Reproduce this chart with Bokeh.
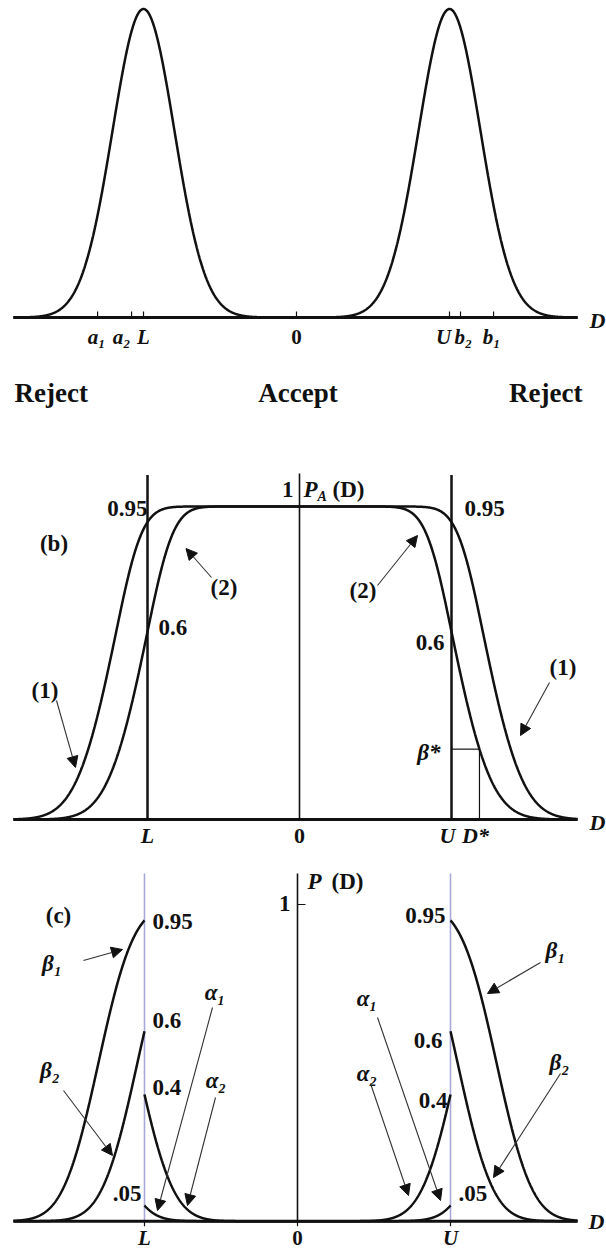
import math
import numpy as np
from statistics import NormalDist
from bokeh.plotting import figure
from bokeh.layouts import column
from bokeh.models import Range1d, Arrow, NormalHead
from bokeh.core.properties import value
from bokeh.embed import file_html
from bokeh.resources import INLINE

FONT = "Liberation Serif"
INK = "#111111"
GUIDE = "#a8a8da"
ARROW_INK = "#333333"
FS = 23      # label font size
FT = 22      # tick label font size

# ---------------- values ----------------
L_LIMIT = -1.0
U_LIMIT = 1.0

# (a) distributions of the estimate centred on the two limits
dist_centers = [L_LIMIT, U_LIMIT]
dist_sigma = 0.202
a_tick_pos = [-1.300, -1.078, -1.000, 0.000, 1.000, 1.072, 1.288]
a_tick_text = ["a₁", "a₂", "L", "0", "U", "b₂", "b₁"]
region_text = ["Reject", "Accept", "Reject"]

# (b) operating characteristic curves (1) and (2)
oc_labels = ["(1)", "(2)"]
pa_at_limits = [0.95, 0.6]
b_scale_outer = 0.2105
b_scale_inner = 0.1316
d_star = 1.184
b_tick_pos = [L_LIMIT, 0.0, U_LIMIT, d_star]
b_tick_text = ["L", "0", "U", "D*"]

# (c) error probabilities beta (outside) and alpha (inside)
c_scale = 0.183
beta_text = ["β₁", "β₂"]
alpha_text = ["α₁", "α₂"]
c_level_text = ["0.95", "0.6", "0.4", ".05"]
c_tick_pos = [L_LIMIT, 0.0, U_LIMIT]
c_tick_text = ["L", "0", "U"]

# ---------------- curve shapes ----------------
ND = NormalDist()
_erf = np.vectorize(math.erf)


def Phi(z):
    return 0.5 * (1.0 + _erf(np.asarray(z, float) / math.sqrt(2.0)))


def make_shape(a, b):
    wl = 2 * a / (a + b)
    wh = 2 * b / (a + b)
    pm = a / (a + b)

    def F(v):
        v = np.asarray(v, float)
        return np.where(v < 0, wl * Phi(v / a), 1 - wh * (1 - Phi(v / b)))

    def Finv(p):
        if p < pm:
            return a * ND.inv_cdf(p / wl)
        return b * ND.inv_cdf(1 - (1 - p) / wh)

    return F, Finv


def accept_prob(D, p_limit, shape):
    F, Finv = shape
    s = Finv(p_limit)
    return F(D - (L_LIMIT - s)) * F((U_LIMIT + s) - D)


# ---------------- panels ----------------
W = 606


class Panel:
    def __init__(self, top, h, cx, ux, ay, uy):
        self.cx, self.ux, self.ay, self.uy = cx, ux, ay, uy
        self.fig = figure(
            width=W, height=h,
            x_range=Range1d((0 - cx) / ux, (W - cx) / ux),
            y_range=Range1d((ay - (top + h)) / uy, (ay - top) / uy),
            output_backend="svg", toolbar_location=None, tools="",
            x_axis_type=None, y_axis_type=None, min_border=0,
            outline_line_color=None, background_fill_color="white",
            border_fill_color="white",
        )
        self.lo = self.X(13)
        self.hi = self.X(577)

    def X(self, px):
        return (px - self.cx) / self.ux

    def Y(self, py):
        return (self.ay - py) / self.uy

    def dx(self, n):
        return n / self.ux

    def dy(self, n):
        return n / self.uy


def txt(P, xp, yp, s, size=FS, style="bold", align="center"):
    P.fig.text(x=[P.X(xp)], y=[P.Y(yp)], text=[s],
               text_font=value(FONT), text_font_size=value(f"{size}px"),
               text_font_style=style, text_align=align, text_baseline="middle",
               text_color=INK)


def arrow(P, x0, y0, x1, y1):
    P.fig.add_layout(Arrow(
        end=NormalHead(size=11, fill_color=INK, line_color=INK, line_width=1),
        x_start=P.X(x0), y_start=P.Y(y0), x_end=P.X(x1), y_end=P.Y(y1),
        line_color=ARROW_INK, line_width=1.1))


def tick_labels(P, xs, texts, shifts, mid_py, size=FT):
    for x, t, o in zip(xs, texts, shifts):
        P.fig.text(x=[x + P.dx(o)], y=[P.Y(mid_py)], text=[t], text_font=value(FONT),
                   text_font_size=value(f"{size}px"),
                   text_font_style="bold" if t == "0" else "bold italic",
                   text_align="center", text_baseline="middle", text_color=INK)


# ===== panel (a) =====
A = Panel(0, 420, 296, 153, 317, 308.5)
pa = A.fig
D = np.linspace(A.lo, A.hi, 1500)
for c in dist_centers:
    pa.line(D, np.exp(-0.5 * ((D - c) / dist_sigma) ** 2), line_width=2.5, line_color=INK)
n = len(a_tick_pos)
pa.segment(x0=a_tick_pos, y0=[0] * n, x1=a_tick_pos, y1=[A.dy(6)] * n,
           line_width=1.2, line_color=INK)
pa.line([A.lo, A.hi], [0, 0], line_width=3, line_color=INK)
tick_labels(A, a_tick_pos, a_tick_text, [-1, -10, 0, 0, -6, 3, -2], 336, 21)
txt(A, 589, 320, "D", FT, "bold italic", "left")
txt(A, 14, 392, region_text[0], 27, "bold", "left")
txt(A, 297.5, 392, region_text[1], 27, "bold", "center")
txt(A, 582, 392, region_text[2], 27, "bold", "right")

# ===== panel (b) =====
B = Panel(420, 436, 299, 152, 819, 313)
pb = B.fig
shapeB = make_shape(b_scale_outer, b_scale_inner)
D = np.linspace(B.lo, B.hi, 1500)
for p in pa_at_limits:
    pb.line(D, accept_prob(D, p, shapeB), line_width=2.5, line_color=INK)
pb.line([B.lo, B.hi], [0, 0], line_width=3, line_color=INK)
pb.line([0, 0], [0, B.Y(473)], line_width=1.6, line_color=INK)
pb.segment(x0=[L_LIMIT, U_LIMIT], y0=[0, 0], x1=[L_LIMIT, U_LIMIT],
           y1=[B.Y(474.5)] * 2, line_width=2.5, line_color=INK)
beta_star = float(accept_prob(np.array([d_star]), pa_at_limits[1], shapeB)[0])
pb.segment(x0=[U_LIMIT, d_star], y0=[beta_star, 0], x1=[d_star, d_star],
           y1=[beta_star, beta_star], line_width=1.2, line_color=INK)

txt(B, 293, 489, "1", FS, "bold", "right")
txt(B, 303, 489, "P", FS, "bold italic", "left")
txt(B, 317, 496, "A", 14, "bold italic", "left")
txt(B, 332, 489, "(D)", FS, "bold", "left")
txt(B, 147, 508, "0.95", FS, "bold", "right")
txt(B, 464, 508, "0.95", FS, "bold", "left")
txt(B, 158, 627, "0.6", FS, "bold", "left")
txt(B, 444, 642, "0.6", FS, "bold", "right")
txt(B, 53.5, 543, "(b)", FS, "bold")
txt(B, 223.5, 587, oc_labels[1], FS, "bold")
txt(B, 362.5, 590, oc_labels[1], FS, "bold")
txt(B, 44.5, 690, oc_labels[0], FS, "bold")
txt(B, 562.5, 667, oc_labels[0], FS, "bold")
txt(B, 440, 752, "β*", FS, "bold italic", "right")
tick_labels(B, b_tick_pos, b_tick_text, [0, 0, -4, -4], 835)
txt(B, 589, 822, "D", FT, "bold italic", "left")
arrow(B, 211, 577, 185.5, 548)
arrow(B, 377, 585, 417, 535)
arrow(B, 56, 700, 75, 767)
arrow(B, 549, 682, 520, 735)

# ===== panel (c) =====
C = Panel(856, 393, 297, 153, 1220.7, 316.7)
pc = C.fig
shapeC = make_shape(c_scale, c_scale)
pc.segment(x0=[L_LIMIT, U_LIMIT], y0=[0, 0], x1=[L_LIMIT, U_LIMIT],
           y1=[C.Y(873)] * 2, line_width=1.6, line_color=GUIDE)
pc.line([C.lo, C.hi], [0, 0], line_width=3, line_color=INK)
pc.line([0, 0], [0, C.Y(873)], line_width=1.6, line_color=INK)
pc.segment(x0=[0], y0=[1], x1=[C.dx(8)], y1=[1], line_width=1.2, line_color=INK)
k = len(c_tick_pos)
pc.segment(x0=c_tick_pos, y0=[0] * k, x1=c_tick_pos, y1=[-C.dy(5)] * k,
           line_width=1.2, line_color=INK)
Dl = np.linspace(C.lo, L_LIMIT, 700)
Dr = np.linspace(U_LIMIT, C.hi, 700)
Dm = np.linspace(L_LIMIT, U_LIMIT, 1400)
for p in pa_at_limits:
    pc.line(Dl, accept_prob(Dl, p, shapeC), line_width=2.5, line_color=INK)
    pc.line(Dr, accept_prob(Dr, p, shapeC), line_width=2.5, line_color=INK)
    pc.line(Dm, 1 - accept_prob(Dm, p, shapeC), line_width=2.5, line_color=INK)

txt(C, 290, 903, "1", FS, "bold", "right")
txt(C, 307, 881, "P", FS, "bold italic", "left")
txt(C, 331, 881, "(D)", FS, "bold", "left")
txt(C, 58, 915, "(c)", FS, "bold")
# level labels, lower limit
txt(C, 152, 921, c_level_text[0], FS, "bold", "left")
txt(C, 152, 1020, c_level_text[1], FS, "bold", "left")
txt(C, 152, 1087, c_level_text[2], FS, "bold", "left")
txt(C, 141, 1193, c_level_text[3], FS, "bold", "right")
# level labels, upper limit
txt(C, 445, 915, c_level_text[0], FS, "bold", "right")
txt(C, 442, 1040, c_level_text[1], FS, "bold", "right")
txt(C, 447, 1100, c_level_text[2], FS, "bold", "right")
txt(C, 458, 1193, c_level_text[3], FS, "bold", "left")
# greek labels
txt(C, 51.5, 963, beta_text[0], FS, "bold italic")
txt(C, 49.5, 1070, beta_text[1], FS, "bold italic")
txt(C, 214.5, 992, alpha_text[0], FS, "bold italic")
txt(C, 215.5, 1080, alpha_text[1], FS, "bold italic")
txt(C, 555, 950, beta_text[0], FS, "bold italic")
txt(C, 559, 1062, beta_text[1], FS, "bold italic")
txt(C, 366.5, 998, alpha_text[0], FS, "bold italic")
txt(C, 366.5, 1073, alpha_text[1], FS, "bold italic")
arrow(C, 83, 960, 122, 949)
arrow(C, 63, 1090, 112, 1155)
arrow(C, 212, 1007, 157, 1210)
arrow(C, 215, 1097, 187, 1205)
arrow(C, 540, 962, 487, 993)
arrow(C, 377, 1017, 440, 1200)
arrow(C, 560, 1073, 493, 1177)
arrow(C, 370, 1083, 408, 1195)
tick_labels(C, c_tick_pos, c_tick_text, [0, 0, 0], 1237, 21)
txt(C, 588, 1221, "D", FT, "bold italic", "left")

layout = column(A.fig, B.fig, C.fig, spacing=0)
open("out.html", "w").write(file_html(layout, INLINE))
